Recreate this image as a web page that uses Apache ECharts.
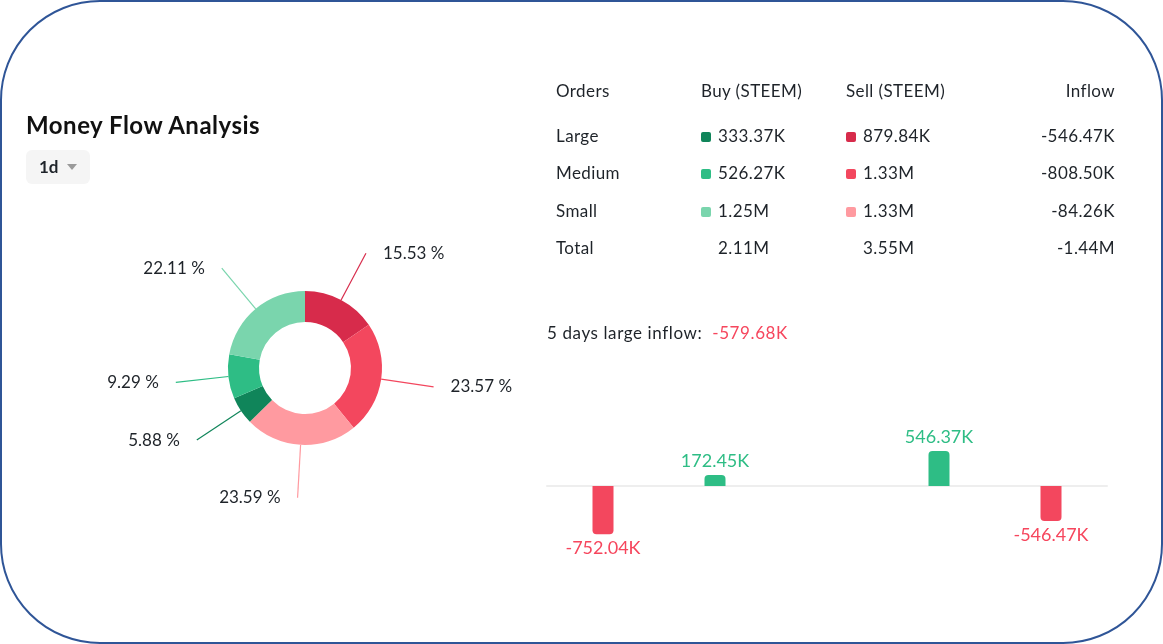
<!DOCTYPE html>
<html lang="en">
<head>
    <meta charset="UTF-8">
    <title>Money Flow Analysis</title>
    <script src="https://cdn.jsdelivr.net/npm/echarts@6/dist/echarts.min.js"></script>
    <style>
        html, body { margin: 0; padding: 0; background: #fff; }
        body { width: 1163px; height: 644px; position: relative; overflow: hidden;
               font-family: Lato, "Noto Sans", sans-serif; color: #1e2329; }
        #frame { position: absolute; left: 0; top: 0; width: 1163px; height: 644px; box-sizing: border-box;
                 border: 2.5px solid #2f5597; border-radius: 100px / 100px; }
        #chart { position: absolute; left: 0; top: 0; width: 1163px; height: 644px; }
        #title { position: absolute; left: 26px; top: 110px; font-size: 24px; font-weight: bold; letter-spacing: 0.5px; color: #111; }
        #btn { position: absolute; left: 26px; top: 150px; width: 64px; height: 34px; background: #f5f5f5;
               border-radius: 6px; font-size: 17px; font-weight: bold; line-height: 34px; }
        #btn span { position: absolute; left: 13px; }
        #btn i { position: absolute; left: 41px; top: 14px; width: 0; height: 0;
                 border-left: 5px solid transparent; border-right: 5px solid transparent; border-top: 6px solid #9a9a9a; }
        #tbl { position: absolute; left: 556px; top: 78px; width: 559px; border-collapse: collapse;
               font-size: 17px; letter-spacing: 0.4px; }
        #tbl td { padding: 0; height: 37.5px; white-space: nowrap; }
        #tbl tr.h td { height: 24px; padding-bottom: 14.5px; }
        .sw { display: inline-block; width: 10px; height: 10px; border-radius: 2px; margin-right: 7px; vertical-align: 0px; }
        #inflow { position: absolute; left: 547px; top: 322px; font-size: 17px; letter-spacing: 0.6px; }
        #inflow b { font-weight: normal; color: #f6465d; }
    </style>
</head>
<body>
<div id="frame"></div>
<div id="chart"></div>
<div id="title">Money Flow Analysis</div>
<div id="btn"><span>1d</span><i></i></div>
<table id="tbl"></table>
<div id="inflow"></div>

<script type="text/javascript">
    // order sizes and table values
    var orderNames = ['Large', 'Medium', 'Small'];
    var buyValues = ['333.37K', '526.27K', '1.25M'];
    var sellValues = ['879.84K', '1.33M', '1.33M'];
    var inflowValues = ['-546.47K', '-808.50K', '-84.26K'];
    var totals = ['2.11M', '3.55M', '-1.44M'];
    var buyColors = ['#10855a', '#2ebd85', '#7ad5ad'];
    var sellColors = ['#d72b4b', '#f3475e', '#ff9aa0'];

    // donut slices, clockwise from 12 o'clock (percent)
    var pieNames = ['Large sell', 'Medium sell', 'Small sell', 'Large buy', 'Medium buy', 'Small buy'];
    var pieValues = [15.53, 23.57, 23.59, 5.88, 9.29, 22.11];
    var pieColors = ['#d72b4b', '#f3475e', '#ff9aa0', '#10855a', '#2ebd85', '#7ad5ad'];

    // 5 days large inflow (K)
    var days = ['D1', 'D2', 'D3', 'D4', 'D5'];
    var dayInflow = [-752.04, 172.45, 0, 546.37, -546.47];
    var fiveDayTotal = '-579.68K';

    // table
    var html = '<tr class="h"><td style="width:145px">Orders</td><td style="width:145px">Buy (STEEM)</td>' +
        '<td>Sell (STEEM)</td><td style="text-align:right">Inflow</td></tr>';
    for (var i = 0; i < orderNames.length; i++) {
        html += '<tr><td>' + orderNames[i] + '</td>' +
            '<td><span class="sw" style="background:' + buyColors[i] + '"></span>' + buyValues[i] + '</td>' +
            '<td><span class="sw" style="background:' + sellColors[i] + '"></span>' + sellValues[i] + '</td>' +
            '<td style="text-align:right">' + inflowValues[i] + '</td></tr>';
    }
    html += '<tr><td>Total</td><td style="padding-left:17px">' + totals[0] + '</td>' +
        '<td style="padding-left:17px">' + totals[1] + '</td><td style="text-align:right">' + totals[2] + '</td></tr>';
    document.getElementById('tbl').innerHTML = html;
    document.getElementById('inflow').innerHTML = '5 days large inflow:&nbsp; <b>' + fiveDayTotal + '</b>';

    var myChart = echarts.init(document.getElementById('chart'));

    var pieData = pieValues.map(function (v, i) {
        return { name: pieNames[i], value: v, itemStyle: { color: pieColors[i] } };
    });
    var barData = dayInflow.map(function (v) {
        return {
            value: v,
            itemStyle: {
                color: v >= 0 ? '#2ebd85' : '#f3475e',
                borderRadius: v >= 0 ? [4, 4, 0, 0] : [0, 0, 4, 4]
            },
            label: { color: v >= 0 ? '#2ebd85' : '#f6465d', position: v >= 0 ? 'top' : 'bottom' }
        };
    });

    var option = {
        animation: false,
        grid: { left: 547, top: 422, width: 560, height: 128 },
        xAxis: {
            type: 'category',
            data: days,
            axisLine: { onZero: true, lineStyle: { color: '#eeeeee', width: 2 } },
            axisTick: { show: false },
            axisLabel: { show: false }
        },
        yAxis: {
            type: 'value',
            min: -1000,
            max: 1000,
            show: false,
            splitLine: { show: false }
        },
        series: [
            {
                type: 'pie',
                center: [305, 368],
                radius: [46, 77],
                startAngle: 90,
                clockwise: true,
                avoidLabelOverlap: false,
                silent: true,
                label: {
                    formatter: '{c} %',
                    color: '#1e2329',
                    fontSize: 17,
                    fontFamily: 'Lato',
                    distanceToLabelLine: 17
                },
                labelLine: { length: 53, length2: 0, lineStyle: { width: 1.2 } },
                data: pieData
            },
            {
                type: 'bar',
                barWidth: 21,
                silent: true,
                label: {
                    show: true,
                    fontSize: 18,
                    fontFamily: 'Lato',
                    distance: 5,
                    formatter: function (p) {
                        return p.value === 0 ? '' : p.value.toFixed(2) + 'K';
                    }
                },
                data: barData
            }
        ]
    };
    myChart.setOption(option);
</script>
</body>
</html>
